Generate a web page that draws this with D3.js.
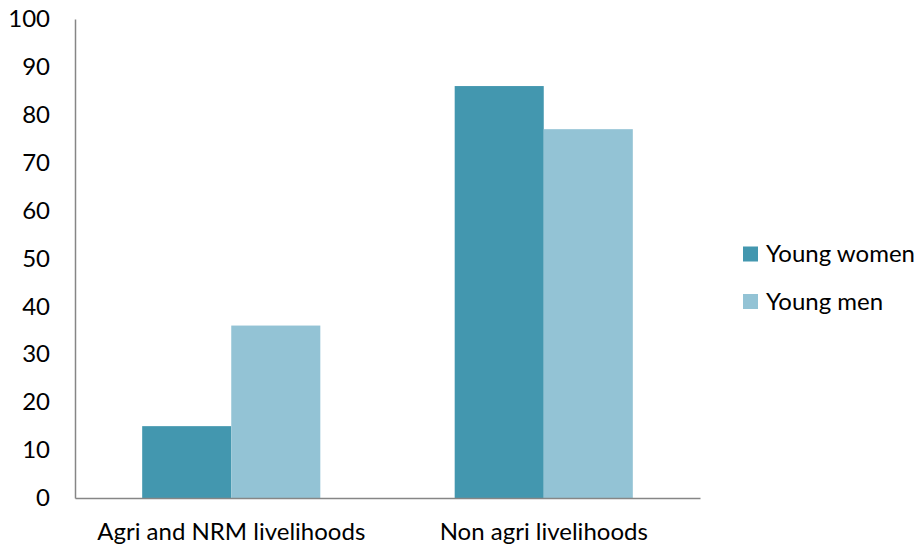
<!DOCTYPE html>
<html><head><meta charset="utf-8">
<script src="https://cdn.jsdelivr.net/npm/d3@7"></script>
<style>body{margin:0;background:#fff;} text{font-family:Lato, "Open Sans", sans-serif;fill:#000;}</style>
</head><body><svg id="c" width="924" height="550"></svg>
<script>
const categories = ["Agri and NRM livelihoods", "Non agri livelihoods"];
const seriesNames = ["Young women", "Young men"];
const youngWomen = [15, 86];
const youngMen = [36, 77];
const yTicks = [0,10,20,30,40,50,60,70,80,90,100];
const colors = ["#4397AF", "#93C3D5"];

const svg = d3.select("#c");
const mLeft = 75, mRight = 700, mTop = 19, mBottom = 498;
const x0 = d3.scaleBand().domain(categories).range([mLeft, mRight]).paddingInner(0.43).paddingOuter(0.215);
const x1 = d3.scaleBand().domain(seriesNames).range([0, x0.bandwidth()]).padding(0);
const y = d3.scaleLinear().domain([0,100]).range([mBottom, mTop]);
const values = [youngWomen, youngMen];

// bars
categories.forEach((c, ci) => {
  seriesNames.forEach((s, si) => {
    svg.append("rect")
      .attr("x", x0(c) + x1(s))
      .attr("y", y(values[si][ci]))
      .attr("width", x1.bandwidth())
      .attr("height", y(0) - y(values[si][ci]))
      .attr("fill", colors[si]);
  });
});

// y axis
const ya = svg.append("g").attr("transform", `translate(${mLeft},0)`)
  .call(d3.axisLeft(y).tickValues(yTicks).tickSize(0).tickPadding(25));
ya.select(".domain").attr("stroke", "#868686").attr("stroke-width", 1.5);
ya.selectAll("text").style("font-size", "24px").attr("font-family", null);

// x axis
const xa = svg.append("g").attr("transform", `translate(0,${mBottom})`)
  .call(d3.axisBottom(x0).tickSize(0).tickPadding(25));
xa.select(".domain").attr("stroke", "#868686").attr("stroke-width", 1.5);
xa.selectAll("text").style("font-size", "24px").attr("font-family", null);

// legend
const lg = svg.append("g");
seriesNames.forEach((s, i) => {
  const yy = 254 + i * 47.5;
  lg.append("rect").attr("x", 743).attr("y", yy - 7.5).attr("width", 15).attr("height", 15).attr("fill", colors[i]);
  lg.append("text").attr("x", 766).attr("y", yy).attr("dy", "0.35em").style("font-size", "24px").text(s);
});
</script></body></html>
